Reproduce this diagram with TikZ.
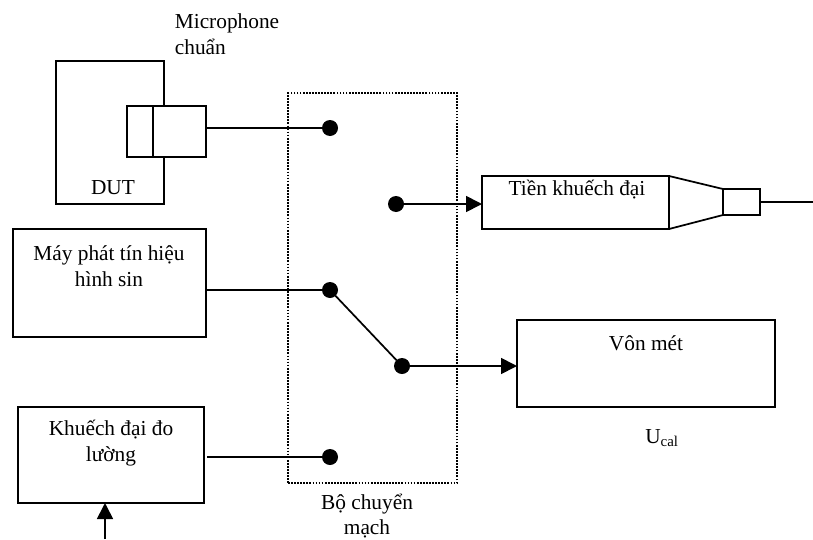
\documentclass[tikz,border=0pt]{standalone}
\usepackage{fontspec}
\setmainfont{Liberation Serif}
\usetikzlibrary{arrows.meta}
\begin{document}
\begin{tikzpicture}[x=0.75pt,y=-0.75pt,line width=1.3pt,font=\fontsize{16}{19.3}\selectfont]
  \tikzstyle{block}=[draw,fill=white,inner sep=0pt,outer sep=0pt]
  \tikzstyle{vertex}=[circle,fill=black,minimum size=12pt,inner sep=0pt,outer sep=0pt]
  \tikzstyle{caption}=[align=center,inner sep=0pt]
  \tikzstyle{arrow}=[-{Triangle[length=12pt,width=12pt]}]
  \useasboundingbox (0,0) rectangle (813,539);

  \node[block,minimum width=81pt,minimum height=107.25pt] (dut) at (110,132.5){};
  \node[block,minimum width=59.25pt,minimum height=38.25pt] (mic) at (166.5,131.5){};
  \node[block,minimum width=140.25pt,minimum height=39.75pt] (preamp) at (575.5,202.5){};
  \node[block,minimum width=27.75pt,minimum height=19.5pt] (tail) at (741.5,202){};
  \node[block,minimum width=144.75pt,minimum height=81pt] (sine) at (109.5,283){};
  \node[block,minimum width=193.5pt,minimum height=65.25pt] (volt) at (646,363.5){};
  \node[block,minimum width=139.5pt,minimum height=72pt] (meas) at (111,455){};
  \node[draw,densely dotted,inner sep=0pt,minimum width=126.75pt,minimum height=292.5pt] (switch) at (372.5,288){};

  \node[vertex] (v1) at (330,128){};
  \node[vertex] (v2) at (396,204){};
  \node[vertex] (v3) at (330,290){};
  \node[vertex] (v4) at (402,366){};
  \node[vertex] (v5) at (330,457){};
  \coordinate (out) at (813,202);
  \coordinate (in) at (105,539);
  \coordinate (micdiv) at (153,106);
  \coordinate (measout) at (207,457);

  \draw (micdiv) -- (micdiv |- mic.south);
  \draw (preamp.north east) -- (tail.north west);
  \draw (preamp.south east) -- (tail.south west);
  \draw (tail.east) -- (out);
  \draw (mic.east |- v1) -- (v1);
  \draw (sine.east |- v3) -- (v3);
  \draw (measout) -- (v5);
  \draw (v3) -- (v4);
  \draw[arrow] (v2) -- (preamp.west |- v2);
  \draw[arrow] (v4) -- (volt.west |- v4);
  \draw[arrow] (in) -- (in |- meas.south);

  \node[caption,align=left,anchor=north west] (miclabel) at (174,13){Microphone\\chuẩn};
  \node[caption] (dutlabel) at (113,188){DUT};
  \node[caption] (preamplabel) at (577,190){Tiền khuếch đại};
  \node[caption] (sinelabel) at (109,266){Máy phát tín hiệu\\hình sin};
  \node[caption] (voltlabel) at (646,343){Vôn mét};
  \node[caption] (ucal) at (662,438){U\textsubscript{cal}};
  \node[caption] (measlabel) at (111,443){Khuếch đại đo\\lường};
  \node[caption] (switchlabel) at (367,516){Bộ chuyển\\mạch};
\end{tikzpicture}
\end{document}
